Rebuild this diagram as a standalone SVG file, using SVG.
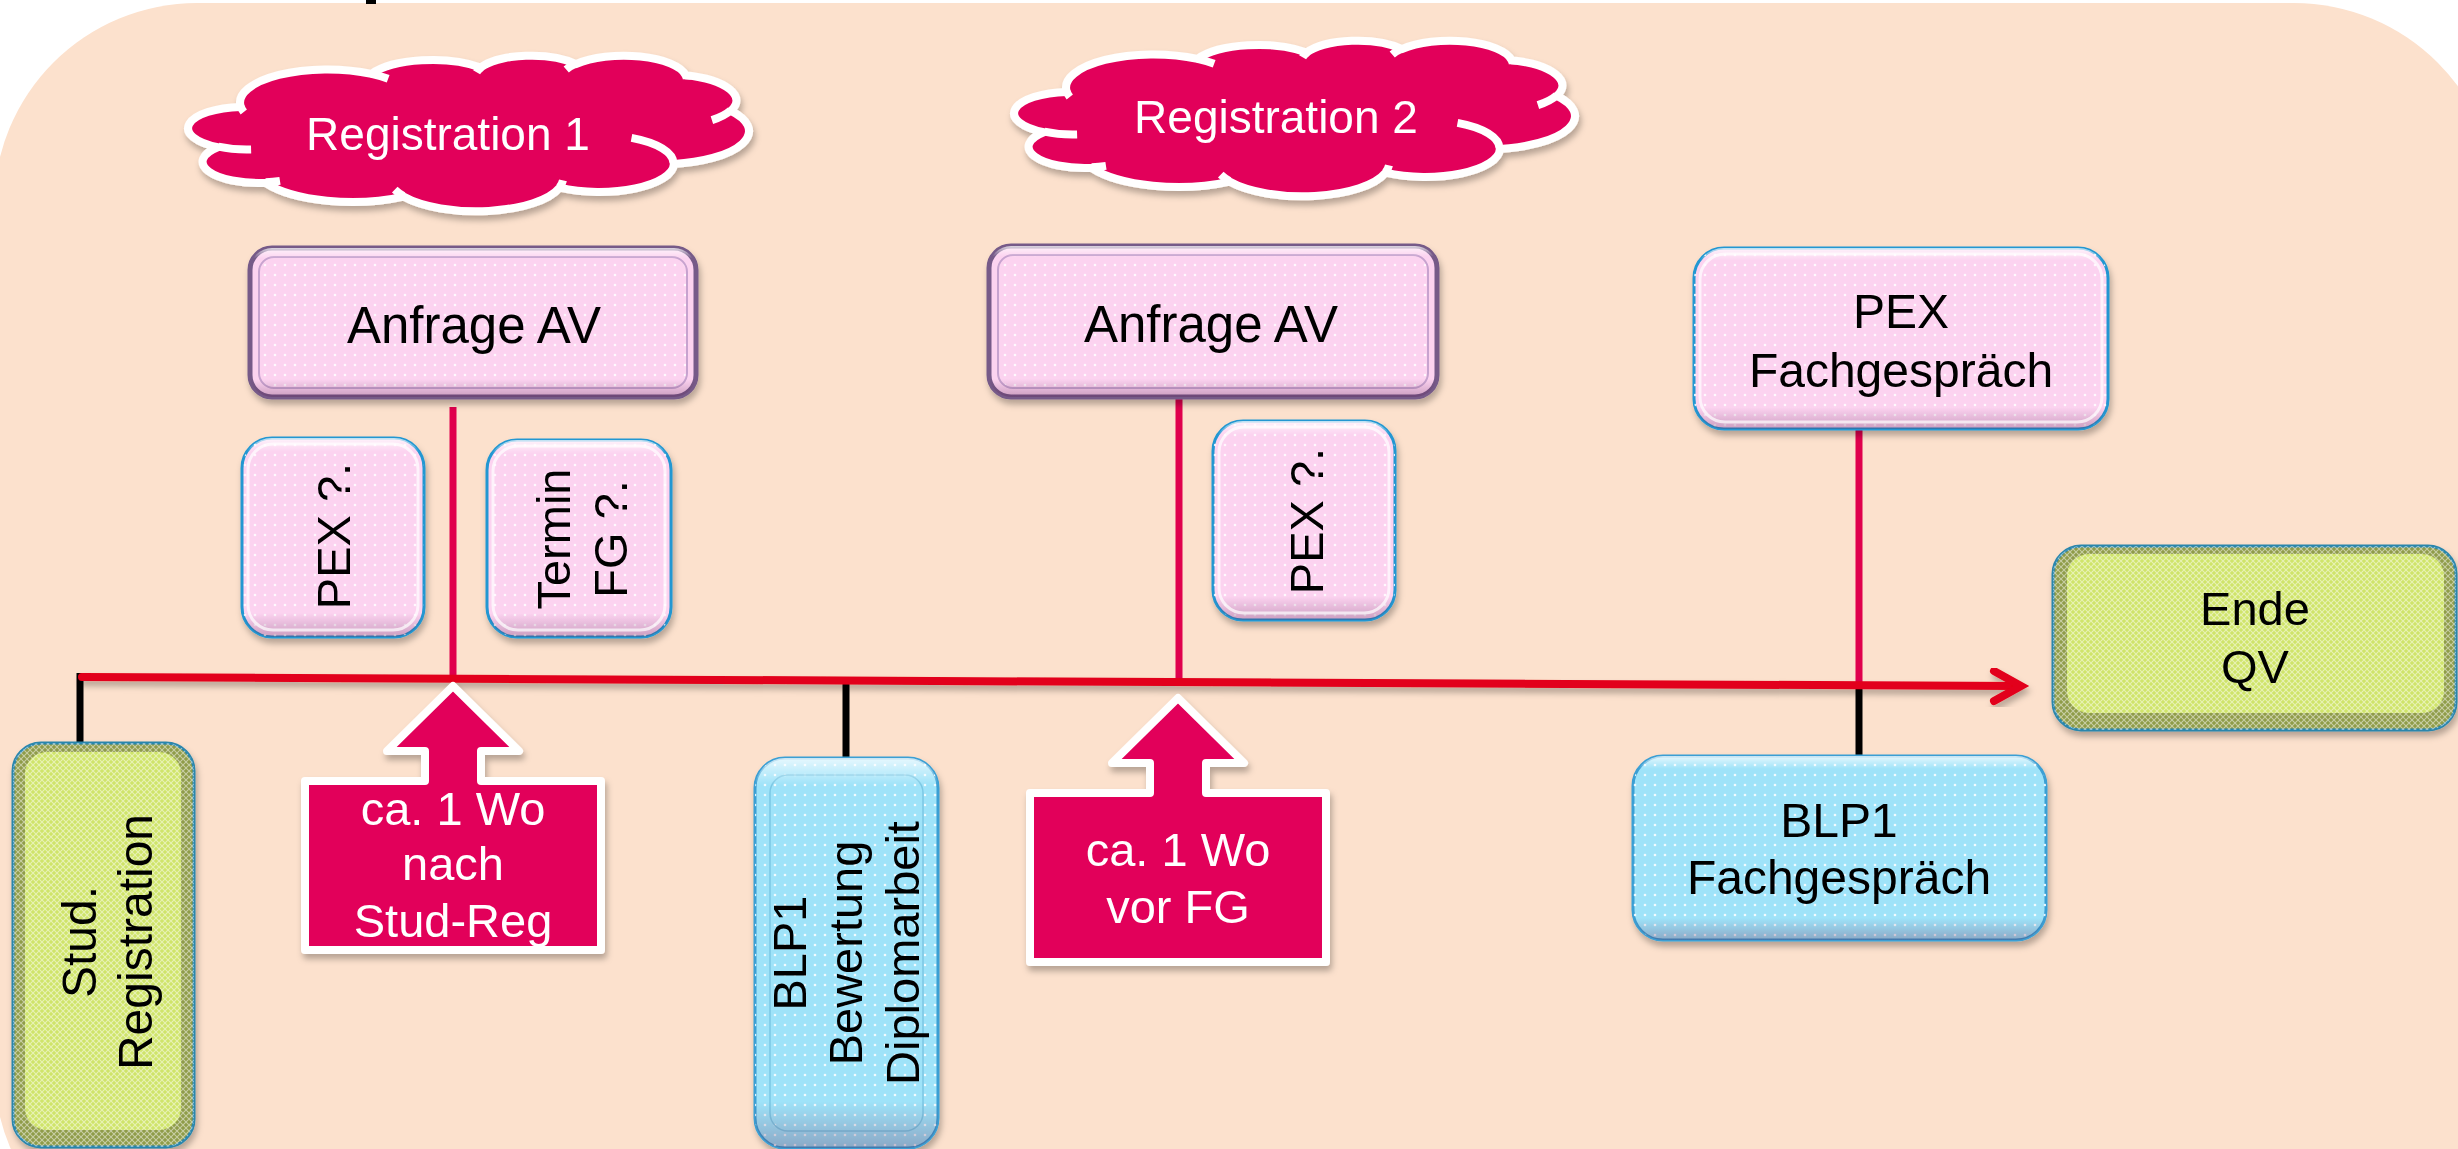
<svg xmlns="http://www.w3.org/2000/svg" width="2458" height="1149" viewBox="0 0 2458 1149">
<defs>
<style>
text { font-family: "Liberation Sans", Arial, sans-serif; }
.lbl { font-size: 47px; fill: #000; text-anchor: middle; }
.lbl48 { font-size: 48px; fill: #000; text-anchor: middle; }
.big { font-size: 51px; fill: #000; text-anchor: middle; }
.wlbl { font-size: 47px; fill: #fff; text-anchor: middle; }
.ctext { font-size: 46px; fill: #fff; text-anchor: middle; }
.pinkbox { fill: #FCD3F0; stroke: #2297D2; stroke-width: 3; }
.bluebox { fill: #9FE3F9; stroke: #3A9FD4; stroke-width: 3; }
.anf-out { fill: #FCD3F0; stroke: #765A88; stroke-width: 5; }
.anf-in { fill: url(#dots); stroke: #C7A3CF; stroke-width: 2; }
.grn-out { fill: #8F9C48; stroke: #2A86AC; stroke-width: 3; }
.grn-in { fill: #CFE46A; }
.mesh { fill: url(#mesh); }
.dots { fill: url(#dots); }
.bev { fill: url(#bevel); }
.hl { fill: none; stroke: #fff; stroke-opacity: 0.7; stroke-width: 3; }
.cloud { fill: #E2005A; stroke: #fff; stroke-width: 8; stroke-linejoin: round; }
.ctick { fill: none; stroke: #fff; stroke-width: 8; stroke-linecap: butt; }
.callout { fill: #E2005A; stroke: #fff; stroke-width: 8; stroke-linejoin: round; }
.tl { fill: none; stroke: #E2001A; stroke-width: 8; stroke-linecap: round; stroke-linejoin: miter; }
.pv { stroke: #E0004D; stroke-width: 7; }
.bv { stroke: #000; stroke-width: 7; }
</style>
<pattern id="dots" width="10" height="10" patternUnits="userSpaceOnUse">
<circle cx="5" cy="5" r="1.3" fill="#fff" opacity="0.85"/>
</pattern>
<pattern id="mesh" width="6" height="6" patternUnits="userSpaceOnUse">
<path d="M0,0 L6,6 M6,0 L0,6" stroke="#fff" stroke-width="1.1" opacity="0.5"/>
</pattern>
<linearGradient id="bevel" x1="0" y1="0" x2="0" y2="1">
<stop offset="0" stop-color="#fff" stop-opacity="0.75"/>
<stop offset="0.07" stop-color="#fff" stop-opacity="0"/>
<stop offset="0.88" stop-color="#5a2050" stop-opacity="0"/>
<stop offset="1" stop-color="#5a2050" stop-opacity="0.3"/>
</linearGradient>
<filter id="sh" x="-10%" y="-10%" width="125%" height="130%">
<feDropShadow dx="2" dy="5" stdDeviation="3" flood-color="#000" flood-opacity="0.28"/>
</filter>
<g id="cloudShape">
<path class="cloud" vector-effect="non-scaling-stroke" d="M3900,14370 A6753,9190 0 0 1 14005.4,5202.3 A5333,7267 0 0 1 22456.6,3429.9 A4365,5945 0 0 1 29833.9,2477.9 A4857,6595 0 0 1 38319.4,5572.5 A5333,7273 0 0 1 41819.7,15456.6 A6775,9220 0 0 1 37406.1,30200.8 A5785,7867 0 0 1 28557.4,36810.8 A6752,9215 0 0 1 16482.8,39264.4 A7720,10543 0 0 1 5807.1,35469.1 A4360,5918 0 0 1 2114.6,25549 A4345,5945 0 0 1 3900,14370 Z"/>
<path class="ctick" vector-effect="non-scaling-stroke" d="M4693,26177 A4345,5945 0 0 1 2159.7,25379.9 M6928,34899 A4360,5918 0 0 1 5819.7,35280.5 M16478,39090 A6752,9215 0 0 1 15809,37348 M28827,34751 A6752,9215 0 0 1 28560,36660 M34129,22954 A5785,7867 0 0 1 37380,30089 M41798,15354 A5333,7273 0 0 1 40350,18030 M38324,5426 A4857,6595 0 0 1 38400,6690 M29078,3952 A4857,6595 0 0 1 29819,2342 M22141,4720 A4365,5945 0 0 1 22500,3331 M14000,5192 A6753,9190 0 0 1 15299,6540 M4127,15789 A6753,9190 0 0 1 3900,14371"/>
</g>
<path id="calloutShape" d="M453,686 L519,751 L481,751 L481,781 L601,781 L601,950 L305,950 L305,781 L425,781 L425,751 L387,751 Z"/>
</defs>

<!-- background -->
<rect x="0" y="0" width="2458" height="1149" fill="#fff"/>
<rect x="-6" y="3" width="2503" height="1268" rx="203" ry="203" fill="#FCE1CD"/>
<rect x="366" y="0" width="10" height="4" fill="#000"/>

<!-- connectors -->
<g id="connectors">
<line class="pv" x1="453" y1="407" x2="453" y2="679"/>
<line class="pv" x1="1179" y1="398" x2="1179" y2="683"/>
<line class="pv" x1="1859" y1="429" x2="1859" y2="685"/>
<line class="bv" x1="80" y1="673" x2="80" y2="745"/>
<line class="bv" x1="846" y1="681" x2="846" y2="760"/>
<line class="bv" x1="1859" y1="685" x2="1859" y2="758"/>
<g filter="url(#sh)">
<path class="tl" d="M82,677 L2019,686"/>
<path class="tl" d="M1994,671 L2021,686 L1994,701"/>
</g>
</g>

<!-- clouds -->
<g id="cloud1" filter="url(#sh)">
<use href="#cloudShape" transform="translate(190.45,55.2) scale(0.012923,0.0036)"/>
<text class="ctext" x="448" y="150">Registration 1</text>
</g>
<g id="cloud2" filter="url(#sh)">
<use href="#cloudShape" transform="translate(1016.45,40.2) scale(0.012923,0.0036)"/>
<text class="ctext" x="1276" y="133">Registration 2</text>
</g>

<!-- Anfrage AV 1 -->
<g id="anfrage1" filter="url(#sh)">
<rect class="anf-out" x="250" y="248" width="446" height="149" rx="22"/>
<rect class="anf-in" x="259" y="257" width="428" height="131" rx="15"/>
<rect class="bev" x="250" y="248" width="446" height="149" rx="22"/>
<text class="big" x="474" y="343">Anfrage AV</text>
</g>

<!-- Anfrage AV 2 -->
<g id="anfrage2" filter="url(#sh)">
<rect class="anf-out" x="989" y="246" width="448" height="151" rx="22"/>
<rect class="anf-in" x="998" y="255" width="430" height="133" rx="15"/>
<rect class="bev" x="989" y="246" width="448" height="151" rx="22"/>
<text class="big" x="1211" y="342">Anfrage AV</text>
</g>

<!-- PEX ?. 1 -->
<g id="pex1" filter="url(#sh)">
<rect class="pinkbox" x="242" y="438" width="182" height="199" rx="30"/>
<rect class="dots" x="242" y="438" width="182" height="199" rx="30"/>
<rect class="bev" x="242" y="438" width="182" height="199" rx="30"/>
<rect class="hl" x="248" y="444" width="170" height="186" rx="25"/>
<text class="lbl" transform="translate(350,536) rotate(-90)">PEX ?.</text>
</g>

<!-- Termin FG ?. -->
<g id="termin" filter="url(#sh)">
<rect class="pinkbox" x="487" y="440" width="184" height="197" rx="30"/>
<rect class="dots" x="487" y="440" width="184" height="197" rx="30"/>
<rect class="bev" x="487" y="440" width="184" height="197" rx="30"/>
<rect class="hl" x="493" y="446" width="172" height="184" rx="25"/>
<text class="lbl" transform="translate(570,539) rotate(-90)">Termin</text>
<text class="lbl" transform="translate(627,539) rotate(-90)">FG ?.</text>
</g>

<!-- PEX ?. 2 -->
<g id="pex2" filter="url(#sh)">
<rect class="pinkbox" x="1213" y="421" width="182" height="199" rx="30"/>
<rect class="dots" x="1213" y="421" width="182" height="199" rx="30"/>
<rect class="bev" x="1213" y="421" width="182" height="199" rx="30"/>
<rect class="hl" x="1219" y="427" width="170" height="186" rx="25"/>
<text class="lbl" transform="translate(1323,521) rotate(-90)">PEX ?.</text>
</g>

<!-- PEX Fachgespräch -->
<g id="pexfg" filter="url(#sh)">
<rect class="pinkbox" x="1694" y="248" width="414" height="181" rx="30"/>
<rect class="dots" x="1694" y="248" width="414" height="181" rx="30"/>
<rect class="bev" x="1694" y="248" width="414" height="181" rx="30"/>
<rect class="hl" x="1700" y="254" width="402" height="168" rx="25"/>
<text class="lbl48" x="1901" y="328">PEX</text>
<text class="lbl48" x="1901" y="387">Fachgespräch</text>
</g>

<!-- Stud. Registration -->
<g id="stud" filter="url(#sh)">
<rect class="grn-out" x="13" y="743" width="181" height="404" rx="28"/>
<rect class="mesh" x="13" y="743" width="181" height="404" rx="28"/>
<rect class="grn-in" x="25" y="752" width="156" height="378" rx="22"/>
<rect class="mesh" x="25" y="752" width="156" height="378" rx="22"/>
<text class="lbl48" transform="translate(96,942) rotate(-90)">Stud.</text>
<text class="lbl48" transform="translate(152,942) rotate(-90)">Registration</text>
</g>

<!-- BLP1 Bewertung Diplomarbeit -->
<g id="blp1bew" filter="url(#sh)">
<rect class="bluebox" x="755" y="758" width="183" height="390" rx="30"/>
<rect class="dots" x="755" y="758" width="183" height="390" rx="30"/>
<rect x="770" y="775" width="153" height="356" rx="18" fill="none" stroke="#7CC8E4" stroke-width="1.5"/>
<rect class="bev" x="755" y="758" width="183" height="390" rx="30"/>
<text class="lbl" transform="translate(806,953) rotate(-90)">BLP1</text>
<text class="lbl" transform="translate(862,953) rotate(-90)">Bewertung</text>
<text class="lbl" transform="translate(919,953) rotate(-90)">Diplomarbeit</text>
</g>

<!-- callout 1 -->
<g id="callout1" filter="url(#sh)">
<use href="#calloutShape" class="callout"/>
<text class="wlbl" x="453" y="825">ca. 1 Wo</text>
<text class="wlbl" x="453" y="880">nach</text>
<text class="wlbl" x="453" y="937">Stud-Reg</text>
</g>

<!-- callout 2 -->
<g id="callout2" filter="url(#sh)">
<use href="#calloutShape" class="callout" transform="translate(725,12)"/>
<text class="wlbl" x="1178" y="866">ca. 1 Wo</text>
<text class="wlbl" x="1178" y="923">vor FG</text>
</g>

<!-- BLP1 Fachgespräch -->
<g id="blp1fg" filter="url(#sh)">
<rect class="bluebox" x="1633" y="756" width="413" height="184" rx="30"/>
<rect class="dots" x="1633" y="756" width="413" height="184" rx="30"/>
<rect class="bev" x="1633" y="756" width="413" height="184" rx="30"/>
<text class="lbl48" x="1839" y="837">BLP1</text>
<text class="lbl48" x="1839" y="894">Fachgespräch</text>
</g>

<!-- Ende QV -->
<g id="ende" filter="url(#sh)">
<rect class="grn-out" x="2053" y="546" width="403" height="184" rx="28"/>
<rect class="mesh" x="2053" y="546" width="403" height="184" rx="28"/>
<rect class="grn-in" x="2067" y="554" width="377" height="159" rx="22"/>
<rect class="mesh" x="2067" y="554" width="377" height="159" rx="22"/>
<text class="lbl" x="2255" y="625">Ende</text>
<text class="lbl" x="2255" y="683">QV</text>
</g>
</svg>
